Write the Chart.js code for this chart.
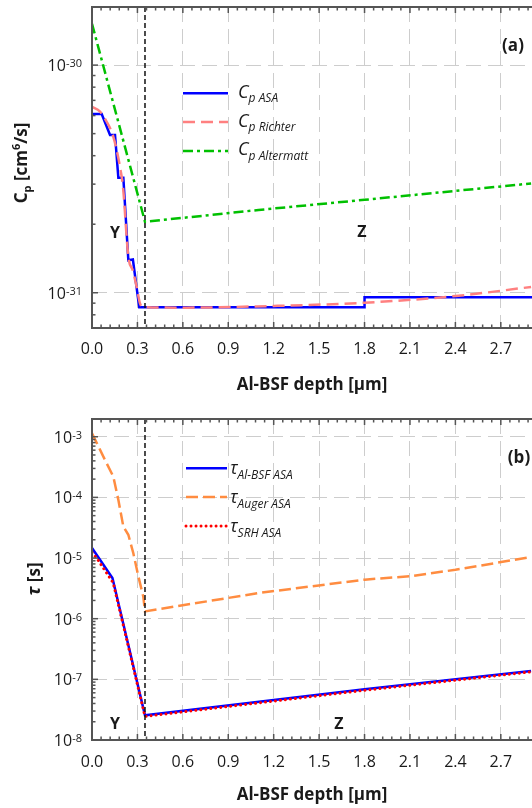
<!DOCTYPE html>
<html lang="en">
<head>
<meta charset="UTF-8" />
<title>Al-BSF Auger coefficient and lifetimes</title>
<script src="https://cdn.jsdelivr.net/npm/chart.js"></script>
<style>
  html, body { margin: 0; padding: 0; background: #fff; overflow: hidden; }
  canvas { display: block; }
</style>
</head>
<body>
<canvas id="cpChart" width="532" height="400"></canvas>
<canvas id="tauChart" width="532" height="408"></canvas>

<script>
// depth axis (µm)
const depthMax = 2.906;
const boundaryDepth = 0.35;
const depthTicks = [0.0, 0.3, 0.6, 0.9, 1.2, 1.5, 1.8, 2.1, 2.4, 2.7];
const depthMinorStep = 0.06;

// log axes: decades that get a label and a grid line
const cpDecades = [-31, -30];
const tauDecades = [-8, -7, -6, -5, -4, -3];
const cpRange = [7.0e-32, 1.8e-30];
const tauRange = [1e-8, 1.96e-3];

// (a) Auger coefficient Cp [cm^6/s]
const cpAsaDepth = [0, 0.064, 0.119, 0.152, 0.174, 0.207, 0.24, 0.27, 0.312, 1.8, 1.8, 3.0];
const cpAsa = [6.1e-31, 6.1e-31, 4.93e-31, 4.93e-31, 3.2e-31, 3.2e-31, 1.39e-31, 1.4e-31, 8.63e-32, 8.63e-32, 9.55e-32, 9.55e-32];
const cpRichterDepth = [0, 0.053, 0.097, 0.141, 0.185, 0.205, 0.24, 0.27, 0.295, 0.317, 0.34, 0.6, 1.2, 1.8, 2.4, 2.9];
const cpRichter = [6.56e-31, 6.24e-31, 5.64e-31, 4.84e-31, 3.57e-31, 2.9e-31, 1.44e-31, 1.25e-31, 1.06e-31, 8.98e-32, 8.65e-32, 8.6e-32, 8.75e-32, 9.04e-32, 9.67e-32, 1.06e-31];
const cpAltermattDepth = [0, 0.35, 1.1, 1.8, 2.9];
const cpAltermatt = [1.52e-30, 2.05e-31, 2.31e-31, 2.56e-31, 3.02e-31];

// (b) lifetimes [s]
const tauBsfDepth = [0, 0.135, 0.35, 1.8, 2.9];
const tauBsf = [1.46e-5, 4.7e-6, 2.55e-8, 6.84e-8, 1.37e-7];
const tauAugerDepth = [0, 0.075, 0.141, 0.174, 0.207, 0.24, 0.273, 0.306, 0.339, 0.35, 1.1, 1.8, 2.1, 2.4, 2.9];
const tauAuger = [1.14e-3, 4.7e-4, 2.19e-4, 9.1e-5, 3.3e-5, 2.42e-5, 1.2e-5, 5.0e-6, 2.3e-6, 1.32e-6, 2.65e-6, 4.4e-6, 5.0e-6, 6.4e-6, 1.04e-5];
const tauSrhDepth = [0, 0.031, 0.14, 0.35, 1.8, 2.9];
const tauSrh = [1.23e-5, 1.0e-5, 3.9e-6, 2.45e-8, 6.6e-8, 1.33e-7];

const FONT = '"Open Sans", "Noto Sans", sans-serif';
const TEXT = "#1a1a1a";
const AXIS = "#555";

const points = (xs, ys) => xs.map((x, i) => ({ x, y: ys[i] }));

function font(r) {
  return `${r.style || "normal"} ${r.weight || "normal"} ${r.size}px ${FONT}`;
}

// draws a run of text pieces (sub/superscripts via dy) starting at x
function drawRuns(ctx, runs, x, y, align) {
  let total = 0;
  runs.forEach((r) => {
    ctx.font = font(r);
    r.w = ctx.measureText(r.text).width;
    total += r.w;
  });
  let cx = align === "center" ? x - total / 2 : align === "right" ? x - total : x;
  ctx.textAlign = "left";
  ctx.textBaseline = "alphabetic";
  runs.forEach((r) => {
    ctx.font = font(r);
    ctx.fillText(r.text, cx, y + (r.dy || 0));
    cx += r.w;
  });
}

function line(ctx, x0, y0, x1, y1) {
  ctx.beginPath();
  ctx.moveTo(x0, y0);
  ctx.lineTo(x1, y1);
  ctx.stroke();
}

function makeDecor(cfg) {
  return {
    id: "panelDecor",
    afterDatasetsDraw(chart) {
      const { ctx, chartArea: a, scales } = chart;
      const bx = scales.x.getPixelForValue(boundaryDepth);
      ctx.save();
      ctx.strokeStyle = "#111";
      ctx.lineWidth = 1.5;
      ctx.setLineDash([5, 3]);
      line(ctx, bx, a.top, bx, a.bottom);
      ctx.restore();
    },
    afterDraw(chart) {
      const { ctx, chartArea: a, scales } = chart;
      const x = scales.x, y = scales.y;
      ctx.save();

      // frame: left, bottom, top
      ctx.strokeStyle = AXIS;
      ctx.lineWidth = 2;
      ctx.beginPath();
      ctx.moveTo(a.right + 2, a.top);
      ctx.lineTo(a.left, a.top);
      ctx.lineTo(a.left, a.bottom);
      ctx.lineTo(a.right + 2, a.bottom);
      ctx.stroke();

      // inward tick marks on depth axes (bottom and top)
      ctx.lineWidth = 1.5;
      for (let i = 0; i * depthMinorStep <= x.max + 1e-9; i++) {
        const px = x.getPixelForValue(i * depthMinorStep);
        const len = i % 5 === 0 ? 6 : 3.5;
        line(ctx, px, a.bottom, px, a.bottom - len);
        line(ctx, px, a.top, px, a.top + len);
      }
      // inward tick marks on the log axis
      const lo = Math.floor(Math.log10(y.min)), hi = Math.ceil(Math.log10(y.max));
      for (let d = lo; d <= hi; d++) {
        for (let m = 1; m <= 9; m++) {
          const v = m * Math.pow(10, d);
          if (v < y.min * 0.999 || v > y.max) continue;
          const py = y.getPixelForValue(v);
          line(ctx, a.left, py, a.left + (m === 1 ? 6 : 3.5), py);
        }
      }

      ctx.fillStyle = TEXT;
      // depth tick labels
      ctx.font = `16px ${FONT}`;
      ctx.textAlign = "center";
      ctx.textBaseline = "alphabetic";
      depthTicks.forEach((v) => {
        ctx.fillText(v.toFixed(1), x.getPixelForValue(v), cfg.tickBase);
      });
      // decade labels 10^n
      cfg.decades.forEach((d) => {
        const py = y.getPixelForValue(Math.pow(10, d));
        drawRuns(ctx, [
          { text: "10", size: 16 },
          { text: String(d), size: 11, dy: -4 },
        ], 82, py + 6, "right");
      });

      // axis titles
      drawRuns(ctx, [{ text: "Al-BSF depth [\u03bcm]", size: 17, weight: "bold" }],
        (a.left + a.right) / 2, cfg.titleBase, "center");
      ctx.save();
      ctx.translate(cfg.yTitle.x, cfg.yTitle.y);
      ctx.rotate(-Math.PI / 2);
      drawRuns(ctx, cfg.yTitle.runs, 0, 0, "center");
      ctx.restore();

      // legend
      const lg = cfg.legend;
      lg.rows.forEach((r, i) => {
        const ly = lg.y + i * lg.dy;
        ctx.save();
        ctx.strokeStyle = r.color;
        ctx.lineWidth = r.width || 2.5;
        ctx.lineCap = r.cap || "butt";
        ctx.setLineDash(r.dash);
        line(ctx, lg.x0, ly, lg.x1, ly);
        ctx.restore();
        drawRuns(ctx, [
          { text: r.main, size: 18, style: "italic" },
          { text: r.sub, size: 12, style: "italic", dy: lg.subDy },
        ], lg.textX, ly + lg.mainDy, "left");
      });

      // region marks and panel letter
      cfg.marks.forEach((m) => {
        drawRuns(ctx, [{ text: m.text, size: m.size || 16, weight: "bold" }], m.x, m.y, "center");
      });
      ctx.restore();
    },
  };
}

function buildChart(id, datasets, range, decades, pad, decor) {
  return new Chart(document.getElementById(id), {
    type: "line",
    data: { datasets },
    options: {
      responsive: false,
      animation: false,
      devicePixelRatio: 1,
      layout: { padding: pad, autoPadding: false },
      plugins: { legend: { display: false }, tooltip: { enabled: false } },
      elements: { point: { radius: 0 }, line: { borderWidth: 2.5, tension: 0 } },
      scales: {
        x: {
          type: "linear",
          min: 0,
          max: depthMax,
          ticks: { display: false },
          grid: { color: "#cdcdcd", lineWidth: 1, drawTicks: false },
          border: { display: false, dash: [15, 7] },
          afterBuildTicks: (s) => { s.ticks = depthTicks.map((v) => ({ value: v })); },
          afterFit: (s) => { s.height = 0; },
        },
        y: {
          type: "logarithmic",
          min: range[0],
          max: range[1],
          ticks: { display: false },
          grid: { color: "#cdcdcd", lineWidth: 1, drawTicks: false },
          border: { display: false, dash: [15, 7] },
          afterBuildTicks: (s) => { s.ticks = decades.map((d) => ({ value: Math.pow(10, d) })); },
          afterFit: (s) => { s.width = 0; },
        },
      },
    },
    plugins: [makeDecor(Object.assign({ decades }, decor))],
  });
}

// (a) Cp
buildChart("cpChart", [
  { label: "Cp Richter", data: points(cpRichterDepth, cpRichter), borderColor: "#ff8080",
    borderDash: [12, 6], cubicInterpolationMode: "monotone" },
  { label: "Cp ASA", data: points(cpAsaDepth, cpAsa), borderColor: "#0000ff" },
  { label: "Cp Altermatt", data: points(cpAltermattDepth, cpAltermatt), borderColor: "#00c000",
    borderDash: [10, 4, 3, 4] },
], cpRange, cpDecades, { left: 92, top: 7, right: 0, bottom: 72 }, {
  tickBase: 354,
  titleBase: 389.5,
  yTitle: { x: 27, y: 163, runs: [
    { text: "C", size: 17, weight: "bold" },
    { text: "p", size: 11, weight: "bold", dy: 4 },
    { text: " [cm", size: 17, weight: "bold" },
    { text: "6", size: 11, weight: "bold", dy: -7 },
    { text: "/s]", size: 17, weight: "bold" },
  ] },
  legend: { x0: 183, x1: 228, y: 93.3, dy: 28.8, textX: 238, mainDy: 4.5, subDy: 4.5, rows: [
    { color: "#0000ff", dash: [], main: "C", sub: "p ASA" },
    { color: "#ff8080", dash: [12, 6], main: "C", sub: "p Richter" },
    { color: "#00c000", dash: [10, 4, 3, 4], main: "C", sub: "p Altermatt" },
  ] },
  marks: [
    { text: "Y", x: 115, y: 238 },
    { text: "Z", x: 362, y: 237 },
    { text: "(a)", x: 513, y: 51, size: 17 },
  ],
});

// (b) lifetimes
buildChart("tauChart", [
  { label: "tau SRH ASA", data: points(tauSrhDepth, tauSrh), borderColor: "#ff0000",
    borderWidth: 3, borderDash: [0.01, 5], borderCapStyle: "round" },
  { label: "tau Al-BSF ASA", data: points(tauBsfDepth, tauBsf), borderColor: "#0000ff" },
  { label: "tau Auger ASA", data: points(tauAugerDepth, tauAuger), borderColor: "#ff8c40",
    borderDash: [12, 5] },
], tauRange, tauDecades, { left: 92, top: 19, right: 0, bottom: 68 }, {
  tickBase: 367,
  titleBase: 400,
  yTitle: { x: 40, y: 179, runs: [
    { text: "\u03c4", size: 18, weight: "bold", style: "italic" },
    { text: " [s]", size: 17, weight: "bold" },
  ] },
  legend: { x0: 186, x1: 227, y: 68.3, dy: 28.8, textX: 230, mainDy: 6, subDy: 5, rows: [
    { color: "#0000ff", dash: [], main: "\u03c4", sub: "Al-BSF ASA" },
    { color: "#ff8c40", dash: [12, 5], main: "\u03c4", sub: "Auger ASA" },
    { color: "#ff0000", dash: [0.01, 5], width: 3, cap: "round", main: "\u03c4", sub: "SRH ASA" },
  ] },
  marks: [
    { text: "Y", x: 115, y: 329 },
    { text: "Z", x: 339, y: 329 },
    { text: "(b)", x: 519, y: 63, size: 17 },
  ],
});
</script>
</body>
</html>
